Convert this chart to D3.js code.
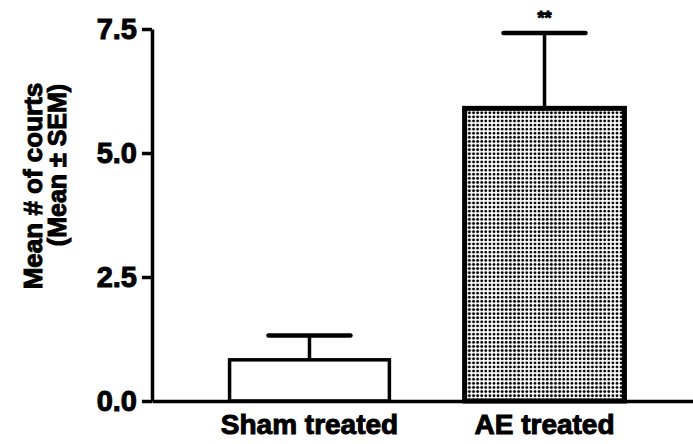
<!DOCTYPE html>
<html>
<head>
<meta charset="utf-8">
<script src="https://cdn.jsdelivr.net/npm/d3@7"></script>
<style>
  body { margin: 0; background: #fff; }
  svg { display: block; }
  text { font-family: "Liberation Sans", Arial, sans-serif; font-weight: bold; fill: #000; stroke: #000; stroke-width: 1px; }
</style>
</head>
<body>
<div id="chart"></div>
<script>
// dados
const categories = ["Sham treated", "AE treated"];
const means = [0.83, 5.9];
const sems = [0.49, 1.52];
const stars = ["", "**"];
const yTicks = [0, 2.5, 5.0, 7.5];

const width = 693;
const height = 444;

const svg = d3.select("#chart")
  .append("svg")
  .attr("width", width)
  .attr("height", height);

// padrão pontilhado da barra AE
const defs = svg.append("defs");
const pat = defs.append("pattern")
  .attr("id", "dots")
  .attr("patternUnits", "userSpaceOnUse")
  .attr("width", 4.1)
  .attr("height", 4.1);
pat.append("rect").attr("width", 4.1).attr("height", 4.1).attr("fill", "#fff");
pat.append("circle").attr("cx", 2).attr("cy", 2).attr("r", 1.45).attr("fill", "#000");

const y = d3.scaleLinear().domain([0, 7.5]).range([401, 29]);
const x = d3.scaleBand()
  .domain(categories)
  .range([152, 702])
  .paddingInner(0.32)
  .paddingOuter(0.33);

// barras
svg.selectAll("rect.bar")
  .data(categories)
  .enter()
  .append("rect")
  .attr("class", "bar")
  .attr("x", d => x(d))
  .attr("y", (d, i) => y(means[i]))
  .attr("width", x.bandwidth())
  .attr("height", (d, i) => y(0) - y(means[i]))
  .attr("fill", (d, i) => i === 1 ? "url(#dots)" : "#fff")
  .attr("stroke", "#000")
  .attr("stroke-width", (d, i) => i === 1 ? 5 : 3.5);

// barras de erro (só para cima)
const err = svg.selectAll("g.err")
  .data(categories)
  .enter()
  .append("g")
  .attr("class", "err");

err.append("line")
  .attr("x1", d => x(d) + x.bandwidth() / 2)
  .attr("x2", d => x(d) + x.bandwidth() / 2)
  .attr("y1", (d, i) => y(means[i]))
  .attr("y2", (d, i) => y(means[i] + sems[i]))
  .attr("stroke", "#000")
  .attr("stroke-width", 3.5);

err.append("line")
  .attr("x1", d => x(d) + x.bandwidth() / 2 - 41)
  .attr("x2", d => x(d) + x.bandwidth() / 2 + 41)
  .attr("y1", (d, i) => y(means[i] + sems[i]))
  .attr("y2", (d, i) => y(means[i] + sems[i]))
  .attr("stroke", "#000")
  .attr("stroke-width", 4.5)
  .attr("stroke-linecap", "round");

err.append("text")
  .attr("x", d => x(d) + x.bandwidth() / 2)
  .attr("y", (d, i) => y(means[i] + sems[i]) - 9)
  .attr("text-anchor", "middle")
  .style("font-size", "18px")
  .text((d, i) => stars[i]);

// eixo Y
const yAxis = svg.append("g")
  .attr("transform", "translate(152,0)")
  .call(d3.axisLeft(y)
    .tickValues(yTicks)
    .tickFormat(d3.format(".1f"))
    .tickSize(10)
    .tickSizeOuter(0)
    .tickPadding(5));
yAxis.select(".domain").attr("stroke-width", 3.5);
yAxis.selectAll(".tick line").attr("stroke-width", 3.5);
yAxis.selectAll(".tick text")
  .style("font-size", "29px")
  .style("font-family", "Liberation Sans, Arial, sans-serif")
  .style("font-weight", "bold")
  .attr("fill", "#000");

// eixo X
const xAxis = svg.append("g")
  .attr("transform", `translate(0,${y(0)})`)
  .call(d3.axisBottom(x).tickSize(0).tickSizeOuter(0).tickPadding(13));
xAxis.select(".domain").attr("stroke-width", 3.5);
xAxis.selectAll(".tick text")
  .style("font-size", "28px")
  .style("font-family", "Liberation Sans, Arial, sans-serif")
  .style("font-weight", "bold")
  .attr("fill", "#000");

// título do eixo Y (duas linhas)
svg.append("text")
  .attr("transform", "translate(42,186) rotate(-90)")
  .attr("text-anchor", "middle")
  .style("font-size", "26px")
  .text("Mean # of courts");

svg.append("text")
  .attr("transform", "translate(66,165) rotate(-90)")
  .attr("text-anchor", "middle")
  .style("font-size", "25px")
  .text("(Mean ± SEM)");
</script>
</body>
</html>
